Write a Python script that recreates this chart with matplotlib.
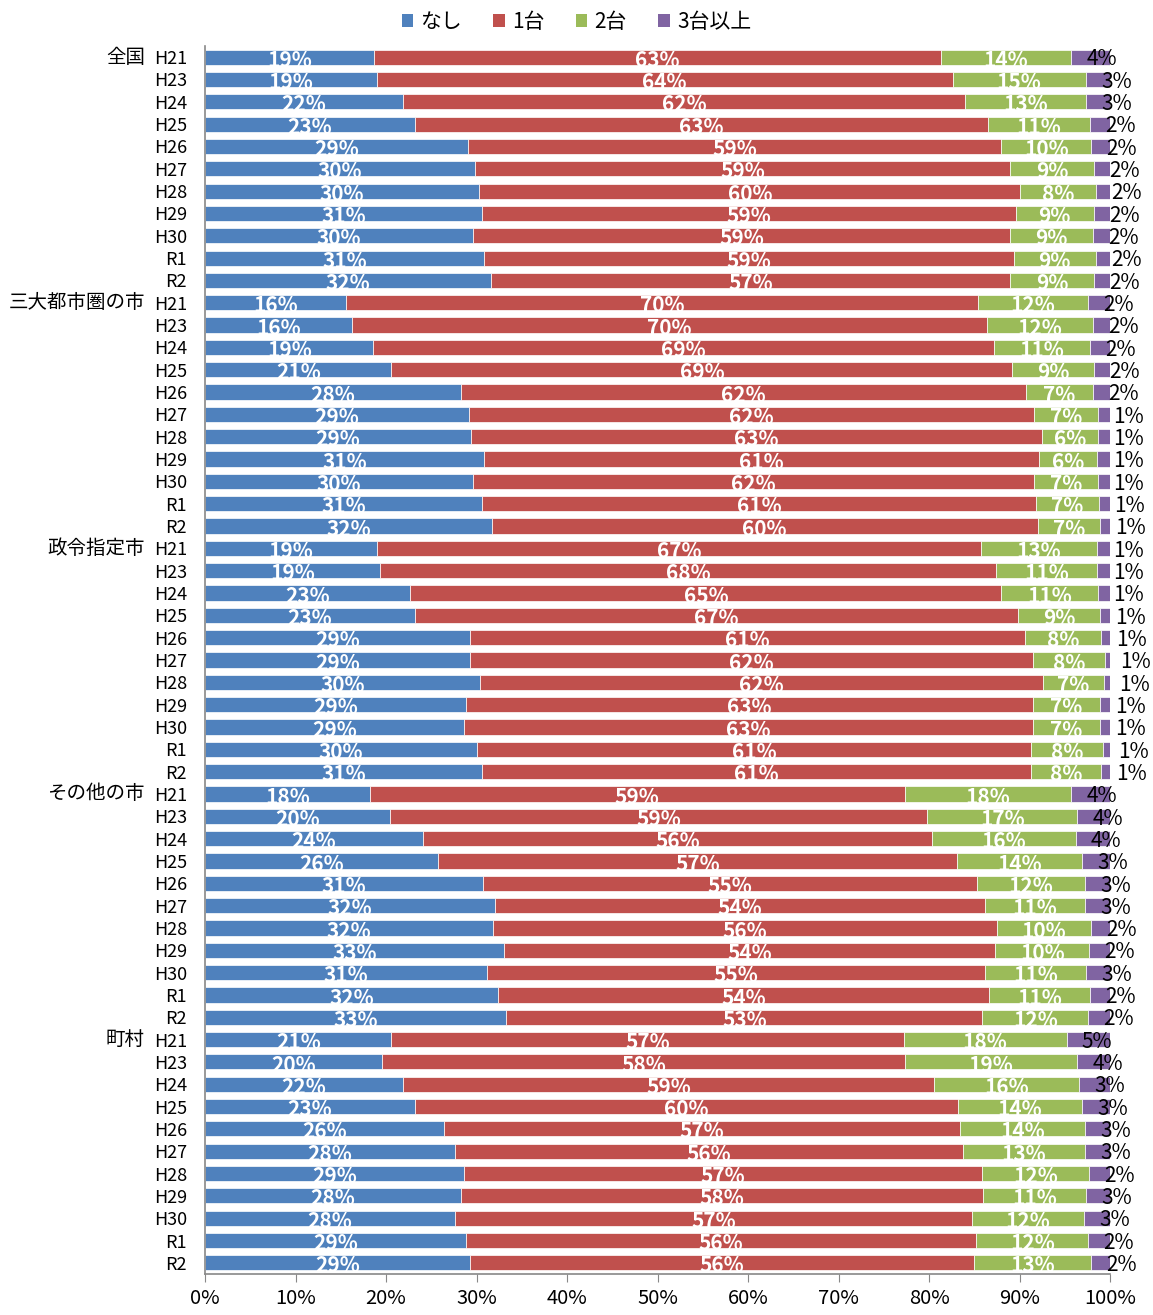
import matplotlib
matplotlib.use("Agg")
import matplotlib.pyplot as plt
import numpy as np
from matplotlib.patches import Patch
from matplotlib.transforms import blended_transform_factory

plt.rcParams['font.family'] = ['Noto Sans CJK JP', 'DejaVu Sans']

groups = ['全国', '三大都市圏の市', '政令指定市', 'その他の市', '町村']
years = ['H21', 'H23', 'H24', 'H25', 'H26', 'H27', 'H28', 'H29', 'H30', 'R1', 'R2']
series_names = ['なし', '1台', '2台', '3台以上']

# share of households (%) by group, year order as in `years`
none_ = [18.7, 19.0, 21.9, 23.2, 29.1, 29.8, 30.3, 30.6, 29.6, 30.8, 31.6,
         15.6, 16.2, 18.6, 20.6, 28.3, 29.2, 29.4, 30.8, 29.6, 30.6, 31.7,
         19.0, 19.3, 22.7, 23.2, 29.3, 29.3, 30.4, 28.8, 28.6, 30.1, 30.6,
         18.2, 20.4, 24.1, 25.7, 30.7, 32.0, 31.8, 33.0, 31.2, 32.4, 33.3,
         20.6, 19.6, 21.9, 23.2, 26.4, 27.6, 28.6, 28.3, 27.6, 28.8, 29.3]
one = [62.6, 63.6, 62.1, 63.3, 58.9, 59.2, 59.8, 59.0, 59.4, 58.6, 57.4,
       69.8, 70.2, 68.6, 68.6, 62.4, 62.4, 63.1, 61.4, 62.0, 61.2, 60.3,
       66.7, 68.1, 65.3, 66.6, 61.3, 62.2, 62.2, 62.7, 62.9, 61.2, 60.7,
       59.1, 59.4, 56.2, 57.4, 54.6, 54.2, 55.7, 54.3, 55.0, 54.2, 52.6,
       56.6, 57.7, 58.7, 60.0, 57.0, 56.2, 57.3, 57.7, 57.2, 56.4, 55.7]
two = [14.4, 14.7, 13.3, 11.3, 9.9, 9.2, 8.3, 8.6, 9.1, 9.0, 9.2,
       12.2, 11.7, 10.6, 9.0, 7.4, 7.1, 6.2, 6.4, 7.1, 7.0, 6.9,
       12.9, 11.2, 10.7, 9.1, 8.4, 7.9, 6.7, 7.4, 7.4, 7.9, 7.7,
       18.4, 16.6, 15.9, 13.8, 11.9, 11.0, 10.4, 10.4, 11.2, 11.2, 11.7,
       18.0, 19.1, 16.0, 13.7, 13.8, 13.4, 11.8, 11.3, 12.3, 12.4, 12.9]
three_plus = [4.3, 2.7, 2.7, 2.2, 2.1, 1.8, 1.6, 1.8, 1.9, 1.6, 1.8,
              2.4, 1.9, 2.2, 1.8, 1.9, 1.3, 1.3, 1.4, 1.3, 1.2, 1.1,
              1.4, 1.4, 1.3, 1.1, 1.0, 0.6, 0.7, 1.1, 1.1, 0.8, 1.0,
              4.3, 3.6, 3.8, 3.1, 2.8, 2.8, 2.1, 2.3, 2.6, 2.2, 2.4,
              4.8, 3.6, 3.4, 3.1, 2.8, 2.8, 2.3, 2.7, 2.9, 2.4, 2.1]

colors = ['#4F81BD', '#C0504D', '#9BBB59', '#8064A2']

fig = plt.figure(figsize=(11.53, 13.15), dpi=100)
ax = fig.add_axes([205 / 1153, 1 - 1274 / 1315, 905 / 1153, 1228 / 1315])

n = len(none_)
y = np.arange(n)
data = [np.array(none_), np.array(one), np.array(two), np.array(three_plus)]
left = np.zeros(n)
for k, (vals, col) in enumerate(zip(data, colors)):
    ax.barh(y, vals, left=left, height=0.68, color=col, edgecolor='white',
            linewidth=0.5, label=series_names[k])
    for i in range(n):
        v = vals[i]
        if k < 3:
            ax.text(left[i] + v / 2, y[i] + 0.14, f"{v:.0f}%", ha='center', va='center',
                    color='white', fontsize=15, fontweight='bold')
        else:
            ax.text(left[i] + 1.7, y[i] + 0.1, f"{v:.0f}%", ha='left', va='center',
                    color='black', fontsize=15)
    left = left + vals

ax.set_xlim(0, 100)
ax.set_ylim(n - 0.5, -0.5)
ax.set_xticks(np.arange(0, 101, 10))
ax.set_xticklabels([f"{t}%" for t in range(0, 101, 10)], fontsize=14.5)
ax.tick_params(axis='x', length=6, color='#888888', pad=4)

ax.set_yticks(y)
ax.set_yticklabels(years * len(groups), fontsize=13)
ax.tick_params(axis='y', length=0, pad=13)

for s in ['top', 'right']:
    ax.spines[s].set_visible(False)
for s in ['left', 'bottom']:
    ax.spines[s].set_color('#888888')
    ax.spines[s].set_linewidth(1.2)

trans = blended_transform_factory(fig.transFigure, ax.transData)
for g, name in enumerate(groups):
    ax.text(145 / 1153, g * len(years), name, transform=trans, ha='right', va='center',
            fontsize=14)

handles = [Patch(facecolor=c, edgecolor='none') for c in colors]
fig.legend(handles, series_names, loc='center', bbox_to_anchor=(0.5, 1 - 22 / 1315),
           ncol=4, frameon=False, fontsize=15, handlelength=0.55, handleheight=0.55,
           handletextpad=0.35, columnspacing=1.5)

fig.savefig('out.png', dpi=100)
